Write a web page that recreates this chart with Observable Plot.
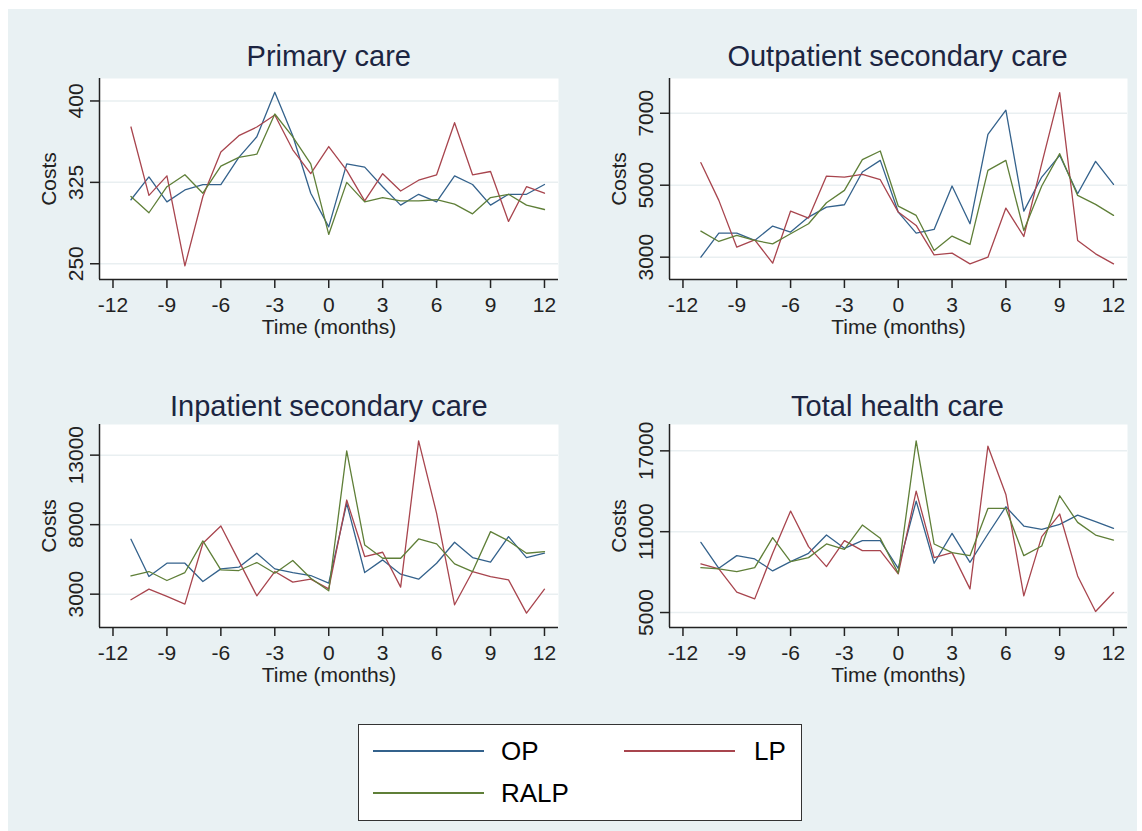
<!DOCTYPE html>
<html>
<head>
<meta charset="utf-8">
<script src="https://cdn.jsdelivr.net/npm/d3@7"></script>
<script src="https://cdn.jsdelivr.net/npm/@observablehq/plot@0.6"></script>
<style>
  html, body { margin: 0; padding: 0; background: #ffffff; }
  #page { position: relative; width: 1142px; height: 831px; overflow: hidden; font-family: "Liberation Sans", Arial, sans-serif; }
  #bg { position: absolute; left: 8px; top: 9px; width: 1129px; height: 822px; background: #e9f1f3; }
  .panel { position: absolute; }
  .title { position: absolute; font-size: 29px; line-height: 29px; color: #1c2541; white-space: nowrap; transform: translateX(-50%); }
  #legend { position: absolute; left: 358px; top: 724px; width: 442px; height: 95px; background: #ffffff; border: 1.5px solid #333; }
  .lg-line { position: absolute; height: 0; border-top: 2.5px solid; }
  .lg-text { position: absolute; font-size: 26px; line-height: 26px; color: #000; }
</style>
</head>
<body>
<div id="page"><div id="bg"></div></div>
<script>
// ---- data ----
const months = [-11, -10, -9, -8, -7, -6, -5, -4, -3, -2, -1, 0, 1, 2, 3, 4, 5, 6, 7, 8, 9, 10, 11, 12];
const seriesNames = ["OP", "LP", "RALP"];
const seriesColors = ["#34628c", "#a8454e", "#5f7f38"];
const xTicks = [-12, -9, -6, -3, 0, 3, 6, 9, 12];

const primaryOP   = [309, 330, 307, 318, 323, 323, 348, 367, 408, 368, 315, 284, 342, 339, 321, 304, 314, 307, 331, 323, 304, 314, 314, 323];
const primaryLP   = [376, 313, 331, 248, 312, 353, 368, 376, 387, 355, 333, 358, 336, 308, 333, 317, 327, 332, 380, 332, 335, 289, 321, 315];
const primaryRALP = [312, 297, 321, 332, 315, 340, 348, 351, 388, 367, 342, 277, 325, 307, 311, 308, 308, 309, 305, 296, 311, 314, 304, 300];
const primaryTicks = [250, 325, 400];

const outpatOP   = [3000, 3668, 3668, 3464, 3863, 3696, 4114, 4392, 4457, 5367, 5691, 4253, 3668, 3770, 4977, 3928, 6415, 7084, 4281, 5227, 5831, 4763, 5664, 5023];
const outpatLP   = [5626, 4578, 3278, 3482, 2833, 4281, 4086, 5255, 5227, 5302, 5153, 4253, 3882, 3065, 3111, 2814, 3000, 4364, 3575, 5599, 7575, 3464, 3093, 2814];
const outpatRALP = [3724, 3436, 3603, 3464, 3371, 3650, 3928, 4513, 4856, 5710, 5951, 4420, 4160, 3186, 3585, 3353, 5413, 5691, 3742, 4977, 5877, 4717, 4466, 4160];
const outpatTicks = [3000, 5000, 7000];

const inpatOP   = [6948, 4269, 5226, 5226, 3910, 4819, 4939, 5944, 4819, 4556, 4341, 3791, 9532, 4556, 5465, 4437, 4078, 5226, 6733, 5633, 5298, 7140, 5633, 5944];
const inpatLP   = [2595, 3360, 2834, 2284, 6661, 7905, 5394, 2882, 4628, 3862, 4078, 3384, 9771, 5704, 6015, 3504, 14029, 8814, 2236, 4628, 4269, 4030, 1638, 3360];
const inpatRALP = [4317, 4628, 3982, 4556, 6828, 4748, 4700, 5274, 4508, 5418, 4150, 3241, 13311, 6542, 5585, 5585, 6972, 6613, 5178, 4628, 7498, 6828, 5944, 6063];
const inpatTicks = [3000, 8000, 13000];

const totalOP   = [10210, 8284, 9222, 8975, 8087, 8778, 9395, 10753, 9766, 10333, 10333, 8284, 13272, 8655, 10877, 8729, 10827, 12852, 11420, 11173, 11543, 12235, 11741, 11247];
const totalLP   = [8605, 8235, 6507, 6013, 9395, 12531, 9889, 8408, 10333, 9593, 9593, 7865, 14012, 9074, 9445, 6754, 17346, 13766, 6235, 10630, 12309, 7717, 5075, 6482];
const totalRALP = [8334, 8235, 8038, 8334, 10556, 8778, 9074, 10087, 9692, 11494, 10506, 7914, 17741, 10087, 9445, 9222, 12729, 12729, 9222, 9939, 13667, 11692, 10753, 10383];
const totalTicks = [5000, 11000, 17000];

// ---- layout ----
const panels = [
  {title: "Primary care", series: [primaryOP, primaryLP, primaryRALP], ticks: primaryTicks,
   yDomain: [235.5, 420.7], L: 99.3, T: 78.3, R: 558.3, B: 279, titleTop: 42.2},
  {title: "Outpatient secondary care", series: [outpatOP, outpatLP, outpatRALP], ticks: outpatTicks,
   yDomain: [2379, 7966], L: 668.5, T: 78.3, R: 1126.5, B: 279, titleTop: 42.2},
  {title: "Inpatient secondary care", series: [inpatOP, inpatLP, inpatRALP], ticks: inpatTicks,
   yDomain: [602, 15204], L: 99.3, T: 424.3, R: 558.3, B: 627.7, titleTop: 391.5},
  {title: "Total health care", series: [totalOP, totalLP, totalRALP], ticks: totalTicks,
   yDomain: [3889, 18956], L: 668.5, T: 424.3, R: 1126.5, B: 627.7, titleTop: 391.5}
];
const xDomain = [-12.75, 12.78];
const ml = 80, mr = 10, mt = 10, mb = 65;

const page = document.getElementById("page");

for (const p of panels) {
  const rows = [];
  p.series.forEach((vals, si) => {
    vals.forEach((v, i) => rows.push({month: months[i], value: v, series: seriesNames[si]}));
  });
  const width = Math.round(p.R - p.L + ml + mr);
  const height = Math.round(p.B - p.T + mt + mb);
  const chart = Plot.plot({
    width, height,
    marginLeft: ml, marginRight: mr, marginTop: mt, marginBottom: mb,
    style: {background: "transparent", fontFamily: "'Liberation Sans', Arial, sans-serif", fontSize: "21px", color: "#222"},
    x: {domain: xDomain},
    y: {domain: p.yDomain},
    color: {domain: seriesNames, range: seriesColors},
    marks: [
      Plot.frame({fill: "white", stroke: null}),
      Plot.gridY(p.ticks, {stroke: "#e9eff1", strokeOpacity: 1, strokeWidth: 1.5}),
      Plot.lineY(rows, {x: "month", y: "value", z: "series", stroke: "series", strokeWidth: 1.3}),
      Plot.ruleX([xDomain[0]], {stroke: "#222", strokeWidth: 1.5}),
      Plot.ruleY([p.yDomain[0]], {stroke: "#222", strokeWidth: 1.5}),
      Plot.axisX(xTicks, {tickSize: 9, tickPadding: 9, stroke: "#222", strokeWidth: 1.5, fill: "#222",
        tickFormat: d => String(d), label: "Time (months)", labelAnchor: "center", labelOffset: 54, labelArrow: false}),
      Plot.axisY(p.ticks, {tickSize: 9, tickPadding: 8, tickRotate: -90, stroke: "#222", strokeWidth: 1.5, fill: "#222",
        tickFormat: d => String(d), label: "Costs", labelAnchor: "center", labelOffset: 58, labelArrow: false})
    ]
  });
  const wrap = document.createElement("div");
  wrap.className = "panel";
  wrap.style.left = (p.L - ml) + "px";
  wrap.style.top = (p.T - mt) + "px";
  wrap.appendChild(chart);
  page.appendChild(wrap);

  const t = document.createElement("div");
  t.className = "title";
  t.textContent = p.title;
  t.style.left = ((p.L + p.R) / 2) + "px";
  t.style.top = p.titleTop + "px";
  page.appendChild(t);
}

// ---- legend ----
const legend = document.createElement("div");
legend.id = "legend";
const legendItems = [
  {name: "OP", x: 14, y: 26, tx: 142},
  {name: "LP", x: 265, y: 26, tx: 395},
  {name: "RALP", x: 14, y: 68, tx: 142}
];
legendItems.forEach(it => {
  const color = seriesColors[seriesNames.indexOf(it.name)];
  const ln = document.createElement("div");
  ln.className = "lg-line";
  ln.style.left = it.x + "px";
  ln.style.top = (it.y - 1) + "px";
  ln.style.width = "111px";
  ln.style.borderTopColor = color;
  legend.appendChild(ln);
  const tx = document.createElement("div");
  tx.className = "lg-text";
  tx.style.left = it.tx + "px";
  tx.style.top = (it.y - 13) + "px";
  tx.textContent = it.name;
  legend.appendChild(tx);
});
page.appendChild(legend);
</script>
</body>
</html>
